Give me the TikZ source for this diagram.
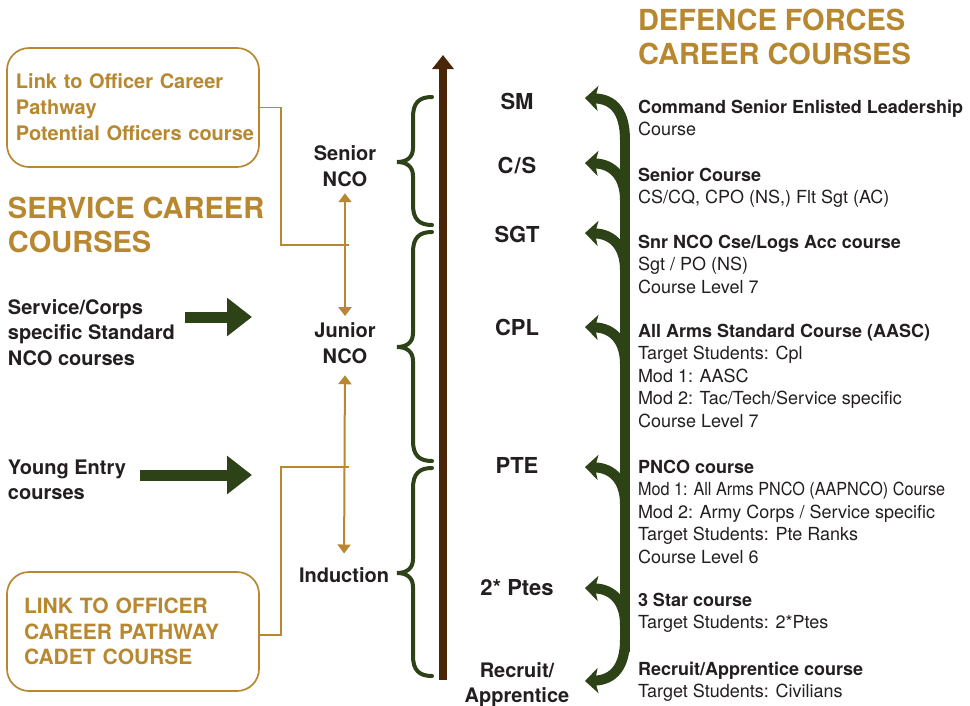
\documentclass[tikz,border=0pt]{standalone}
\usepackage{fontspec}
\setmainfont{TeX Gyre Heros}
\usepackage{graphicx}
\usetikzlibrary{arrows.meta}
\definecolor{gold}{RGB}{183,136,48}
\definecolor{grn}{RGB}{46,66,24}
\definecolor{brn}{RGB}{74,38,8}
\definecolor{ink}{RGB}{35,31,32}
\newcommand\rankbrace[3]{%
  \draw[bracestyle] (432,#1) .. controls (419,#1) and (413,#1+6) .. (413,#1+20)
    -- (413,#2-14) .. controls (413,#2-4) and (406,#2) .. (397,#2)
    .. controls (406,#2) and (413,#2+4) .. (413,#2+14)
    -- (413,#3-20) .. controls (413,#3-6) and (419,#3) .. (432,#3);}
\begin{document}
\begin{tikzpicture}[x=1pt,y=-1pt,
  every node/.style={inner sep=0pt, outer sep=0pt, text=ink},
  titletxt/.style={font=\fontsize{29}{34}\selectfont\bfseries, text=gold, align=left, anchor=base west},
  coursetxt/.style={font=\fontsize{18}{22.5}\selectfont, align=left, anchor=base west},
  ranktxt/.style={font=\fontsize{22}{26}\selectfont\bfseries, align=center, anchor=base},
  leveltxt/.style={font=\fontsize{20}{26}\selectfont\bfseries, align=center, anchor=base},
  lefttxt/.style={font=\fontsize{20}{25.5}\selectfont\bfseries, align=left, anchor=base west},
  linkbox/.style={draw=gold, line width=1.7pt, rounded corners=22pt, text=gold, align=left,
    font=\bfseries, minimum height=119pt, inner ysep=0pt},
  bracestyle/.style={draw=grn, line width=4pt, line cap=round},
  grnarrow/.style={draw=grn, line width=10pt, -{Stealth[length=13pt,width=25pt,inset=3pt]}},
  bigarr/.style={draw=grn, line width=11pt, -{Triangle[length=25pt,width=37pt]}},
  goldline/.style={draw=gold, line width=1.7pt},
  goldarr/.style={draw=gold, line width=2pt, {Triangle[length=9pt,width=13pt]}-{Triangle[length=9pt,width=13pt]}},
]
\useasboundingbox[fill=white] (0,0) rectangle (970,705);

% titles (base anchor = baseline of the last line)
\node[titletxt] (dftitle) at (638,64) {DEFENCE FORCES\\CAREER COURSES};
\node[titletxt] (svtitle) at (8,252) {SERVICE CAREER\\COURSES};

% link boxes
\node[linkbox, text width=244pt, inner xsep=4pt, font=\fontsize{20}{26}\selectfont\bfseries] (topbox) at (133,107.5)
  {\hspace*{5pt}Link to Officer Career\\\hspace*{5pt}Pathway\\\hspace*{5pt}Potential Officers course};
\node[linkbox, text width=218pt, inner xsep=17pt, font=\fontsize{21}{25.5}\selectfont\bfseries] (botbox) at (133,631.5)
  {LINK TO OFFICER\\CAREER PATHWAY\\CADET COURSE};

% left texts
\node[lefttxt] (svc) at (8,365) {Service/Corps\\specific Standard\\NCO courses};
\node[lefttxt] (yng) at (8,499.5) {Young Entry\\courses};
\coordinate (svcS) at (185,317);
\coordinate (svcE) at (252,317);
\coordinate (yngS) at (140,475);
\coordinate (yngE) at (252,475);
\draw[bigarr] (svcS) -- (svcE);
\draw[bigarr] (yngS) -- (yngE);

% levels
\node[leveltxt] (sen) at (345,186) {Senior\\NCO};
\node[leveltxt] (jun) at (345,363) {Junior\\NCO};
\node[leveltxt] (ind) at (344,582) {Induction};
\draw[goldarr, shorten <=7pt, shorten >=6pt] (sen.south) -- (jun.north);
\draw[goldarr, shorten <=12pt, shorten >=13.6pt] (jun.south) -- (ind.north);
\coordinate (j1) at (349,245);
\coordinate (j2) at (349,467);
\draw[goldline] (topbox.east) -| (281,245) -- (j1);
\draw[goldline] ([yshift=-3.5pt]botbox.east) -| (281,467) -- (j2);

% braces
\rankbrace{97}{162}{225}
\rankbrace{232}{347}{461}
\rankbrace{468}{573}{676}

% main brown arrow
\coordinate (mainS) at (443,680);
\coordinate (mainE) at (443,55);
\draw[draw=brn, line width=8pt, -{Triangle[length=14pt,width=21pt]}] (mainS) -- (mainE);

% ranks
\node[ranktxt] (rSM) at (517,109) {SM};
\node[ranktxt] (rCS) at (517,173) {C\kern1pt/\kern1pt S};
\node[ranktxt] (rSGT) at (517,242) {SGT};
\node[ranktxt] (rCPL) at (517,335) {CPL};
\node[ranktxt] (rPTE) at (517,473) {PTE};
\node[ranktxt] (r2P) at (517,595) {2* Ptes};
\node[ranktxt, font=\fontsize{20}{25}\selectfont\bfseries] (rRec) at (517,702) {Recruit/\\Apprentice};

% green bar and branches
\coordinate (barT) at (625,135);
\coordinate (barB) at (625,652);
\draw[draw=grn, line width=10pt] (barT) -- (barB);
\coordinate (hSM) at (585,98);
\coordinate (hCS) at (585,163);
\coordinate (hSGT) at (585,233);
\coordinate (hCPL) at (585,327);
\coordinate (hPTE) at (585,467);
\coordinate (h2P) at (585,588);
\coordinate (hRec) at (585,681);
\draw[grnarrow] (625,140) .. controls (625,112) and (614,99) .. (hSM);
\draw[grnarrow] (625,200) .. controls (625,178) and (614,164) .. (hCS);
\draw[grnarrow] (625,270) .. controls (625,248) and (614,234) .. (hSGT);
\draw[grnarrow] (625,364) .. controls (625,342) and (614,328) .. (hCPL);
\draw[grnarrow] (625,504) .. controls (625,482) and (614,468) .. (hPTE);
\draw[grnarrow] (625,625) .. controls (625,603) and (614,589) .. (h2P);
\draw[grnarrow] (625,640) .. controls (625,666) and (614,680) .. (hRec);

% courses (base anchor = baseline of the last line)
\node[coursetxt] (c1) at (638,135.5) {\textbf{Command Senior Enlisted Leadership}\\Course};
\node[coursetxt] (c2) at (638,203.5) {\textbf{Senior Course}\\CS/CQ, CPO (NS,) Flt Sgt (AC)};
\node[coursetxt] (c3) at (638,293) {\textbf{Snr NCO Cse/Logs Acc course}\\Sgt / PO (NS)\\Course Level 7};
\node[coursetxt] (c4) at (638,427) {\textbf{All Arms Standard Course (AASC)}\\Target Students: Cpl\\Mod 1: AASC\\Mod 2: Tac/Tech/Service specific\\Course Level 7};
\node[coursetxt] (c5) at (638,563) {\textbf{PNCO course}\\\scalebox{0.9}[1]{Mod 1: All Arms PNCO (AAPNCO) Course}\\Mod 2: Army Corps / Service specific\\Target Students: Pte Ranks\\Course Level 6};
\node[coursetxt] (c6) at (638,628.5) {\textbf{3 Star course}\\Target Students: 2*Ptes};
\node[coursetxt] (c7) at (638,697.5) {\textbf{Recruit/Apprentice course}\\Target Students: Civilians};
\end{tikzpicture}
\end{document}
